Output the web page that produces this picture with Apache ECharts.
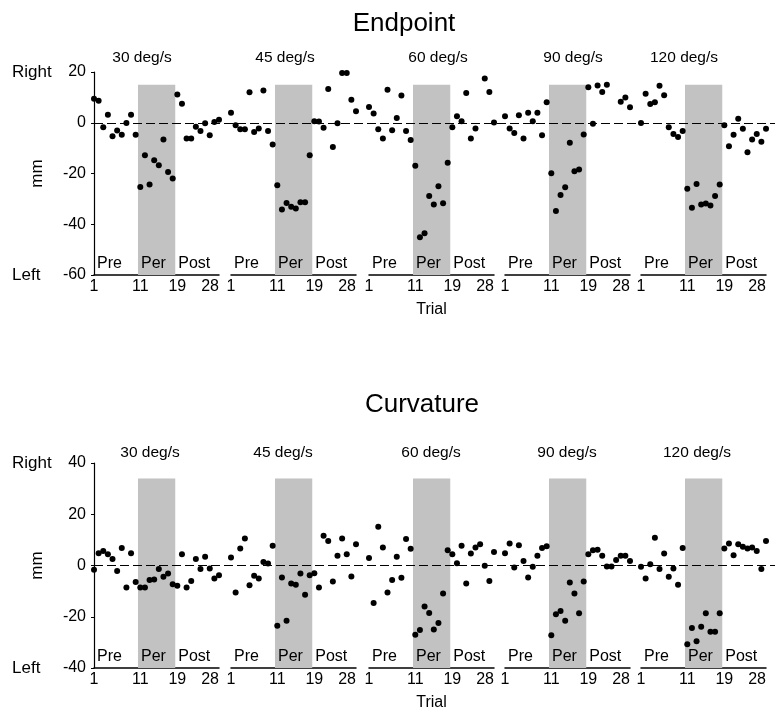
<!DOCTYPE html>
<html>
<head>
<meta charset="utf-8">
<script src="https://cdn.jsdelivr.net/npm/echarts@6/dist/echarts.min.js"></script>
<style>html,body{margin:0;padding:0;background:#fff}#c{width:775px;height:718px}</style>
</head>
<body>
<div id="c"></div>
<script>
// ---------- data ----------
const speeds = ['30 deg/s', '45 deg/s', '60 deg/s', '90 deg/s', '120 deg/s'];
const trialTicks = [1, 11, 19, 28];
const phaseNames = ['Pre', 'Per', 'Post'];
const perWindow = [10.5, 18.55];        // perturbation trials (shaded)

// Endpoint error (mm), trials 1..28
const endpoint30  = [9.5, 8.7, -1.8, 3.2, -5.3, -3.1, -4.7, -0.1, 3.2, -4.7, -25.3, -12.8, -24.3, -14.8, -16.7, -6.6, -19.4, -22.0, 11.1, 7.5, -6.2, -6.2, -1.6, -3.3, -0.2, -4.9, 0.3, 1.2];
const endpoint45  = [3.9, -1.0, -2.6, -2.6, 12.0, -3.6, -2.3, 12.7, -3.3, -8.6, -24.6, -34.2, -31.6, -33.1, -33.8, -31.3, -31.3, -12.8, 0.6, 0.5, -2.0, 13.3, -9.6, -0.2, 19.6, 19.6, 9.1, 4.5];
const endpoint60  = [6.2, 3.6, -2.6, -6.2, 13.0, -3.0, 1.9, 10.7, -3.3, -6.8, -16.9, -45.1, -43.5, -28.9, -32.2, -25.0, -31.7, -15.8, -1.8, 2.6, 0.6, 11.7, -6.2, -2.3, 20.7, 17.4, 12.1, 0.1];
const endpoint90  = [2.6, -2.3, -4.0, 3.0, -6.2, 3.9, 0.6, 3.9, -4.9, 8.1, -19.9, -34.8, -28.5, -25.4, -7.9, -19.1, -18.4, -4.6, 14.0, -0.4, 14.7, 12.1, 15.0, null, 20.5, 8.3, 10.0, 6.1];
const endpoint120 = [-0.1, 11.4, 7.4, 8.1, 14.6, 10.8, -1.8, -4.4, -5.6, -3.3, -26.0, -33.5, -24.1, -32.2, -31.8, -32.6, -28.9, -24.3, -1.0, -9.3, -4.7, 1.6, -2.4, -11.6, -6.6, -4.4, -7.5, -2.4];

// Curvature (mm), trials 1..28
const curvature30  = [-1.7, 4.8, 5.7, 4.4, 2.5, -2.1, 6.8, -8.6, 4.8, -6.4, -8.6, -8.6, -5.7, -5.5, -1.4, -4.4, -3.1, -7.3, -7.9, 4.4, -8.6, -6.0, 2.5, -1.4, 3.4, -1.2, -5.1, -3.8];
const curvature45  = [3.1, -10.5, 6.6, 10.5, -7.7, -4.0, -5.1, 1.4, 0.8, 7.7, -23.5, -4.7, -21.6, -7.0, -7.5, -3.1, -11.4, -3.8, -3.0, -8.6, 11.6, 9.6, -6.2, 3.8, 10.5, 4.4, -4.3, 8.3];
const curvature60  = [2.9, -14.6, 15.1, 7.0, -10.5, -5.7, 3.4, -4.8, 10.3, 6.5, -27.0, -25.2, -16.0, -18.5, -25.0, -22.4, -10.9, 6.0, 4.4, 0.9, 7.7, -7.0, 4.7, 7.0, 8.3, -0.1, -6.0, 5.3];
const curvature90  = [4.8, 8.6, -0.8, 7.9, 1.8, -4.7, -0.5, 3.8, 6.8, 7.5, -27.2, -19.0, -17.8, -21.6, -6.6, -10.9, -18.6, -6.2, 4.4, 6.0, 6.1, 3.8, -0.4, -0.4, 2.1, 3.8, 3.8, 1.8];
const curvature120 = [-0.5, -5.1, 0.5, 10.8, -1.4, 4.7, -4.4, -1.2, -7.5, 6.8, -30.7, -24.4, -29.6, -23.9, -18.6, -25.9, -25.9, -18.6, 6.6, 8.6, 4.0, 8.3, 7.3, 6.6, 7.0, 5.7, -1.4, 9.6];

// ---------- layout ----------
const FONT = '"Liberation Sans", Arial, Helvetica, sans-serif';
const subLefts = [94, 231, 369, 505, 641];
const subWidth = 125;

const panels = [
  { title: 'Endpoint', series: [endpoint30, endpoint45, endpoint60, endpoint90, endpoint120],
    yMin: -60, yMax: 20, shadeTop: 15, top: 72, height: 203,
    titleX: 404, titleY: 24, subY: 58, subX: [142, 285, 438, 573, 684] },
  { title: 'Curvature', series: [curvature30, curvature45, curvature60, curvature90, curvature120],
    yMin: -40, yMax: 40, shadeTop: 34, top: 463, height: 205,
    titleX: 422, titleY: 405, subY: 453, subX: [150, 283, 431, 567, 697] }
];

const grid = [], xAxis = [], yAxis = [], series = [], title = [];

panels.forEach((p) => {
  title.push({ text: p.title, left: p.titleX, top: p.titleY, textAlign: 'center', textVerticalAlign: 'middle', padding: 0,
    textStyle: { fontSize: 26, fontWeight: 'normal', color: '#000', fontFamily: FONT } });
  speeds.forEach((s, k) => {
    title.push({ text: s, left: p.subX[k], top: p.subY, textAlign: 'center', textVerticalAlign: 'middle', padding: 0,
      textStyle: { fontSize: 15.5, fontWeight: 'normal', color: '#000', fontFamily: FONT } });
  });

  p.series.forEach((vals, k) => {
    const gi = grid.length;
    grid.push({ left: subLefts[k], top: p.top, width: subWidth, height: p.height, containLabel: false, outerBoundsMode: 'none' });
    xAxis.push({
      gridIndex: gi, type: 'value', min: 1, max: 28,
      axisLine: { show: true, onZero: false, lineStyle: { color: '#000', width: 1.5 } },
      axisTick: { show: false }, splitLine: { show: false },
      axisLabel: { customValues: trialTicks, alignMaxLabel: 'right', color: '#000', fontSize: 16, margin: 4, fontFamily: FONT },
      name: k === 2 ? 'Trial' : '', nameLocation: 'middle', nameGap: 27, nameMoveOverlap: false,
      nameTextStyle: { color: '#000', fontSize: 16, fontFamily: FONT }
    });
    const first = k === 0;
    yAxis.push({
      gridIndex: gi, type: 'value', min: p.yMin, max: p.yMax, interval: 20,
      show: first,
      axisLine: { show: true, onZero: false, lineStyle: { color: '#000', width: 1.2 } },
      axisTick: { show: true, length: 3, lineStyle: { color: '#000' } },
      splitLine: { show: false },
      axisLabel: {
        margin: 8, color: '#000', fontFamily: FONT,
        formatter: (v) => v === p.yMax ? '{s|Right}{n|' + v + '}' : (v === p.yMin ? '{s|Left}{n|' + v + '}' : '{n|' + v + '}'),
        rich: {
          s: { width: 46, align: 'left', fontSize: 17, color: '#000', fontFamily: FONT },
          n: { width: 28, align: 'right', fontSize: 16, color: '#000', fontFamily: FONT }
        }
      },
      name: first ? 'mm' : '', nameLocation: 'middle', nameGap: 48, nameRotate: 90, nameMoveOverlap: false,
      nameTextStyle: { color: '#000', fontSize: 17, fontFamily: FONT }
    });
    series.push({
      type: 'scatter', xAxisIndex: gi, yAxisIndex: gi, z: 3,
      data: vals.map((v, i) => [i + 1, v]).filter(d => d[1] !== null),
      symbolSize: 6, itemStyle: { color: '#000', opacity: 1 },
      silent: true,
      markArea: {
        silent: true,
        label: { show: true, position: 'insideBottomLeft', distance: 3, color: '#000', fontSize: 16, fontFamily: FONT, formatter: '{b}' },
        data: [
          [{ name: phaseNames[0], xAxis: 1, itemStyle: { color: 'rgba(0,0,0,0)' } }, { xAxis: perWindow[0] }],
          [{ name: phaseNames[1], xAxis: perWindow[0], yAxis: p.yMin, itemStyle: { color: '#c2c2c2' } }, { xAxis: perWindow[1], yAxis: p.shadeTop }],
          [{ name: phaseNames[2], xAxis: perWindow[1], itemStyle: { color: 'rgba(0,0,0,0)' } }, { xAxis: 28 }]
        ]
      }
    });
  });

  // full-width background grid for the dashed zero line
  const bg = grid.length;
  grid.push({ left: subLefts[0], right: 0, top: p.top, height: p.height, containLabel: false, outerBoundsMode: 'none' });
  xAxis.push({ gridIndex: bg, type: 'value', min: 0, max: 1, show: false });
  yAxis.push({ gridIndex: bg, type: 'value', min: p.yMin, max: p.yMax, show: false });
  series.push({
    type: 'scatter', xAxisIndex: bg, yAxisIndex: bg, data: [], z: 5, silent: true,
    markLine: {
      silent: true, symbol: ['none', 'none'], label: { show: false },
      lineStyle: { color: '#000', width: 1, type: [9, 4] },
      data: [{ yAxis: 0 }]
    }
  });
});

const chart = echarts.init(document.getElementById('c'), null, { renderer: 'canvas' });
chart.setOption({ animation: false, backgroundColor: '#fff', title, grid, xAxis, yAxis, series });
</script>
</body>
</html>
